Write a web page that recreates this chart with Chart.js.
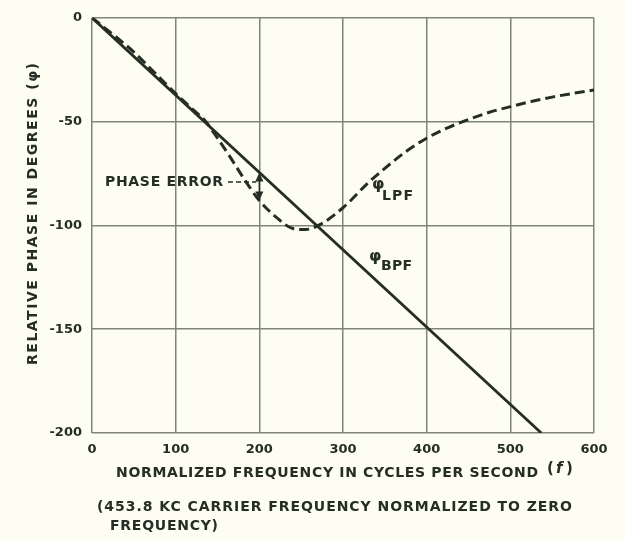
<!DOCTYPE html>
<html>
<head>
<meta charset="utf-8">
<script src="https://cdn.jsdelivr.net/npm/chart.js@4.4.0/dist/chart.umd.min.js"></script>
<style>
  html, body { margin: 0; padding: 0; background: #fdfdf2; }
  #wrap { width: 625px; height: 540px; }
</style>
</head>
<body>
<div id="wrap"><canvas id="chart" width="625" height="540"></canvas></div>
<script>
// Valores
const bpfFreq  = [0, 537];
const bpfPhase = [0, -200];

const lpfFreq  = [0, 25, 50, 75, 100, 120, 135, 150, 165, 180, 200, 220, 240, 255, 273, 300, 330, 350, 375, 400, 425, 450, 475, 500, 525, 550, 575, 600];
const lpfPhase = [0, -8, -16.5, -26.5, -36.5, -44, -49.5, -58, -67, -76.5, -88, -96, -101.5, -102, -99.5, -91.5, -79.5, -72.5, -64.5, -58, -53, -49, -45.5, -42.8, -40.3, -38.2, -36.4, -34.8];

const xTicks = [0, 100, 200, 300, 400, 500, 600];
const yTicks = [0, -50, -100, -150, -200];

const INK = '#252e24';
const GRID = '#7f8677';
const FONT = '"DejaVu Sans", sans-serif';

function toPoints(xs, ys) {
    return xs.map((x, i) => ({ x: x, y: ys[i] }));
}

// escreve texto com espaçamento ajustado para caber numa largura alvo
function spacedText(ctx, text, x, y, width, font) {
    ctx.font = font;
    ctx.letterSpacing = '0px';
    const w = ctx.measureText(text).width;
    const sp = text.length > 1 ? (width - w) / (text.length - 1) : 0;
    ctx.letterSpacing = sp + 'px';
    ctx.textAlign = 'left';
    ctx.fillText(text, x, y);
    ctx.letterSpacing = '0px';
}

function arrowHead(ctx, x, y, dir) {
    ctx.beginPath();
    ctx.moveTo(x, y);
    ctx.lineTo(x - 4, y - 9 * dir);
    ctx.lineTo(x + 4, y - 9 * dir);
    ctx.closePath();
    ctx.fill();
}

const textPlugin = {
    id: 'textos',
    afterDraw(chart) {
        const ctx = chart.ctx;
        const xs = chart.scales.x, ys = chart.scales.y;
        ctx.save();
        ctx.fillStyle = INK;
        ctx.strokeStyle = INK;
        ctx.textBaseline = 'middle';

        // título do eixo Y (rotacionado)
        ctx.save();
        ctx.translate(33, 214);
        ctx.rotate(-Math.PI / 2);
        spacedText(ctx, 'RELATIVE PHASE IN DEGREES (\u03C6)', -151, 0, 302, 'bold 14px ' + FONT);
        ctx.restore();

        // título do eixo X e nota de rodapé
        spacedText(ctx, 'NORMALIZED FREQUENCY IN CYCLES PER SECOND', 116, 473, 422, 'bold 14px ' + FONT);
        ctx.font = 'bold 15px ' + FONT;
        ctx.fillText('(', 547, 469);
        ctx.font = 'italic bold 15px ' + FONT;
        ctx.fillText('f', 556, 469);
        ctx.font = 'bold 15px ' + FONT;
        ctx.fillText(')', 566, 469);
        spacedText(ctx, '(453.8 KC CARRIER FREQUENCY NORMALIZED TO ZERO', 97, 507, 475, 'bold 14px ' + FONT);
        spacedText(ctx, 'FREQUENCY)', 110, 526, 108, 'bold 14px ' + FONT);

        // PHASE ERROR com linha tracejada e seta dupla
        spacedText(ctx, 'PHASE ERROR', 105, 182, 118, 'bold 14px ' + FONT);
        const ax = xs.getPixelForValue(200);
        const yTop = ys.getPixelForValue(-74.5);
        const yBot = ys.getPixelForValue(-88);
        ctx.lineWidth = 1.5;
        ctx.setLineDash([5, 3]);
        ctx.beginPath();
        ctx.moveTo(228, 182);
        ctx.lineTo(ax - 3, 182);
        ctx.stroke();
        ctx.setLineDash([]);
        ctx.beginPath();
        ctx.moveTo(ax, yTop + 6);
        ctx.lineTo(ax, yBot - 6);
        ctx.stroke();
        arrowHead(ctx, ax, yTop, -1);
        arrowHead(ctx, ax, yBot, 1);

        // rótulos das curvas
        ctx.font = 'bold 16px ' + FONT;
        ctx.fillText('\u03C6', 372, 185);
        ctx.fillText('\u03C6', 369, 257);
        spacedText(ctx, 'LPF', 382, 196, 31, 'bold 14px ' + FONT);
        spacedText(ctx, 'BPF', 381, 266, 31, 'bold 14px ' + FONT);

        ctx.restore();
    }
};

const ctx = document.getElementById('chart').getContext('2d');

new Chart(ctx, {
    type: 'line',
    data: {
        datasets: [
            {
                label: 'BPF',
                data: toPoints(bpfFreq, bpfPhase),
                borderColor: INK,
                borderWidth: 2.8,
                pointRadius: 0,
                fill: false
            },
            {
                label: 'LPF',
                data: toPoints(lpfFreq, lpfPhase),
                borderColor: INK,
                borderWidth: 3,
                borderDash: [10, 5],
                pointRadius: 0,
                cubicInterpolationMode: 'monotone',
                fill: false
            }
        ]
    },
    options: {
        responsive: false,
        animation: false,
        layout: { padding: { top: 16, right: 31, left: 0, bottom: 0 } },
        plugins: {
            legend: { display: false },
            tooltip: { enabled: false }
        },
        scales: {
            x: {
                type: 'linear',
                min: 0,
                max: 600,
                afterFit: (s) => { s.height = 107; },
                afterBuildTicks: (s) => { s.ticks = xTicks.map(v => ({ value: v })); },
                grid: { color: GRID, lineWidth: 1.5, drawTicks: false },
                border: { display: false },
                ticks: {
                    color: INK,
                    padding: 9,
                    maxRotation: 0,
                    autoSkip: false,
                    font: { family: FONT, size: 13, weight: 'bold' }
                }
            },
            y: {
                type: 'linear',
                min: -200,
                max: 0,
                afterFit: (s) => { s.width = 92; },
                afterBuildTicks: (s) => { s.ticks = yTicks.map(v => ({ value: v })); },
                grid: { color: GRID, lineWidth: 1.5, drawTicks: false },
                border: { display: false },
                ticks: {
                    color: INK,
                    padding: 10,
                    autoSkip: false,
                    font: { family: FONT, size: 13, weight: 'bold' }
                }
            }
        }
    },
    plugins: [textPlugin]
});
</script>
</body>
</html>
